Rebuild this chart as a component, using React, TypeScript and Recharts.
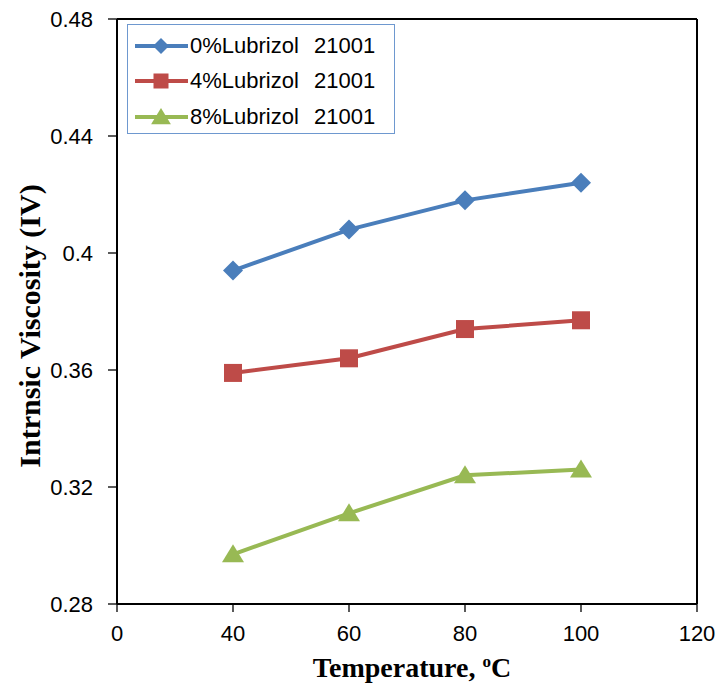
import React from 'react';
import {
  LineChart,
  Line,
  XAxis,
  YAxis,
  Legend,
  ReferenceLine,
} from 'recharts';

// Temperature categories (equally spaced on the axis, as in the source chart)
const temperatures = ['0', '40', '60', '80', '100', '120'];

// Intrinsic viscosity for each Lubrizol 21001 loading
const iv0 = [null, 0.394, 0.408, 0.418, 0.424, null];
const iv4 = [null, 0.359, 0.364, 0.374, 0.377, null];
const iv8 = [null, 0.297, 0.311, 0.324, 0.326, null];

const yTicks = [0.28, 0.32, 0.36, 0.4, 0.44, 0.48];

const seriesNames = ['0%Lubrizol 21001', '4%Lubrizol 21001', '8%Lubrizol 21001'];

const BLUE = '#4A7EBB';
const RED = '#BE4B48';
const GREEN = '#98B954';

const data = temperatures.map((t, i) => ({
  temp: t,
  s0: iv0[i],
  s4: iv4[i],
  s8: iv8[i],
}));

const FONT = '"Liberation Sans", Arial, sans-serif';
const SERIF = '"Liberation Serif", "Times New Roman", serif';

const diamond = (cx: number, cy: number, r: number, fill: string) => (
  <polygon points={`${cx},${cy - r} ${cx + r},${cy} ${cx},${cy + r} ${cx - r},${cy}`} fill={fill} />
);
const square = (cx: number, cy: number, r: number, fill: string) => (
  <rect x={cx - r} y={cy - r} width={r * 2} height={r * 2} fill={fill} />
);
const triangle = (cx: number, cy: number, r: number, fill: string) => (
  <polygon points={`${cx},${cy - r} ${cx + r * 1.1},${cy + r * 0.8} ${cx - r * 1.1},${cy + r * 0.8}`} fill={fill} />
);

const makeDot = (kind: 'd' | 's' | 't', fill: string) => (props: any) => {
  const { cx, cy, index } = props;
  if (cx == null || cy == null || props.value == null) return <g key={`e-${index}`} />;
  return (
    <g key={`m-${index}`}>
      {kind === 'd' && diamond(cx, cy, 10, fill)}
      {kind === 's' && square(cx, cy, 9, fill)}
      {kind === 't' && triangle(cx, cy, 10, fill)}
    </g>
  );
};

const legendItems = [
  { name: seriesNames[0], color: BLUE, kind: 'd' as const },
  { name: seriesNames[1], color: RED, kind: 's' as const },
  { name: seriesNames[2], color: GREEN, kind: 't' as const },
];

function renderLegend() {
  return (
    <div
      style={{
        border: '1.5px solid #6E98CF',
        background: '#fff',
        width: 268,
        height: 110,
        boxSizing: 'border-box',
        paddingTop: 3,
      }}
    >
      {legendItems.map((it) => (
        <div key={it.name} style={{ display: 'flex', alignItems: 'center', height: 35.5 }}>
          <svg width={62} height={30} style={{ display: 'block' }}>
            <line x1={7} y1={15} x2={60} y2={15} stroke={it.color} strokeWidth={4} />
            {it.kind === 'd' && diamond(33, 15, 8, it.color)}
            {it.kind === 's' && square(33, 15, 7.5, it.color)}
            {it.kind === 't' && triangle(33, 15, 9, it.color)}
          </svg>
          <span style={{ fontFamily: FONT, fontSize: 22, color: '#000', wordSpacing: 9, whiteSpace: 'nowrap' }}>
            {it.name}
          </span>
        </div>
      ))}
    </div>
  );
}

export default function App() {
  return (
    <div style={{ position: 'absolute', left: 0, top: 0, background: '#fff' }}>
      <LineChart width={720} height={690} data={data} margin={{ top: 19, right: 23, left: 0, bottom: 0 }}>
        <ReferenceLine y={0.48} stroke="#000" strokeWidth={2} />
        <ReferenceLine x="120" stroke="#000" strokeWidth={2} />
        <XAxis
          dataKey="temp"
          type="category"
          interval={0}
          height={86}
          padding={{ left: 0, right: 0 }}
          axisLine={{ stroke: '#000', strokeWidth: 2 }}
          tickLine={{ stroke: '#000', strokeWidth: 1.3 }}
          tickSize={8}
          tickMargin={13}
          tick={{ fill: '#000', fontSize: 22, fontFamily: FONT }}
          label={{
            content: (p: any) => {
              const vb = p.viewBox || { x: 117, y: 604, width: 580 };
              const cx = vb.x + vb.width / 2 + 5;
              return (
                <text
                  x={cx}
                  y={vb.y + 73}
                  textAnchor="middle"
                  fontFamily={SERIF}
                  fontWeight="bold"
                  fontSize={28}
                  fill="#000"
                >
                  <tspan>Temperature, </tspan>
                  <tspan fontSize={17} dy={-10}>o</tspan>
                  <tspan dy={10}>C</tspan>
                </text>
              );
            },
          }}
        />
        <YAxis
          type="number"
          domain={[0.28, 0.48]}
          ticks={yTicks}
          width={117}
          allowDataOverflow
          axisLine={{ stroke: '#000', strokeWidth: 2 }}
          tickLine={{ stroke: '#000', strokeWidth: 1.3 }}
          tickSize={9}
          tickMargin={15}
          tick={{ fill: '#000', fontSize: 22, fontFamily: FONT }}
          label={{
            content: () => (
              <text
                x={40}
                y={326}
                transform="rotate(-90, 40, 326)"
                textAnchor="middle"
                fontFamily={SERIF}
                fontWeight="bold"
                fontSize={30}
                fill="#000"
              >
                Intrnsic Viscosity (IV)
              </text>
            ),
          }}
        />
        <Legend
          layout="vertical"
          align="center"
          verticalAlign="middle"
          content={renderLegend}
          wrapperStyle={{ top: 24, left: 127, width: 268 }}
        />
        <Line
          dataKey="s0"
          name={seriesNames[0]}
          stroke={BLUE}
          strokeWidth={4}
          dot={makeDot('d', BLUE)}
          activeDot={false}
          isAnimationActive={false}
        />
        <Line
          dataKey="s4"
          name={seriesNames[1]}
          stroke={RED}
          strokeWidth={4}
          dot={makeDot('s', RED)}
          activeDot={false}
          isAnimationActive={false}
        />
        <Line
          dataKey="s8"
          name={seriesNames[2]}
          stroke={GREEN}
          strokeWidth={4}
          dot={makeDot('t', GREEN)}
          activeDot={false}
          isAnimationActive={false}
        />
      </LineChart>
    </div>
  );
}
